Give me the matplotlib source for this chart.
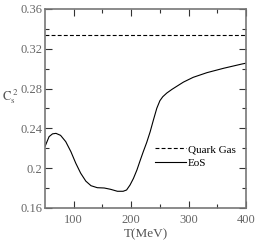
import matplotlib
matplotlib.use('Agg')
import matplotlib.pyplot as plt
import numpy as np

plt.rcParams['font.family'] = ['Liberation Serif', 'DejaVu Serif']
plt.rcParams['mathtext.fontset'] = 'stix'

# EoS speed of sound squared vs temperature
T_eos = [50, 51, 57, 63, 69, 77, 86, 95, 103.5, 112, 121, 130, 141, 153, 164, 176,
         186, 192, 198, 204, 210, 215.5, 221, 227, 233, 238.7, 244.6, 250, 255, 262,
         271, 280, 291, 308, 332, 361, 393, 400]
cs2_eos = [0.222, 0.2233, 0.2317, 0.2345, 0.235, 0.233, 0.2267, 0.2166, 0.205, 0.195,
           0.187, 0.1824, 0.1804, 0.1801, 0.1788, 0.1768, 0.1768, 0.1781, 0.1831,
           0.1898, 0.1982, 0.2075, 0.2165, 0.2258, 0.2365, 0.2484, 0.2602, 0.2678,
           0.2718, 0.2755, 0.2792, 0.2825, 0.2865, 0.2913, 0.296, 0.3004, 0.3047,
           0.3055]
quark_gas = 1.0 / 3.0

xticks = [100, 200, 300, 400]
yticks = [0.16, 0.2, 0.24, 0.28, 0.32, 0.36]
ytick_labels = ['0.16', '0.2', '0.24', '0.28', '0.32', '0.36']

fig = plt.figure(figsize=(2.56, 2.42), dpi=100)
ax = fig.add_axes([0.176, 0.1405, 0.785, 0.8225])

ax.axhline(quark_gas, color='black', linestyle='--', linewidth=0.8,
           dashes=(3.5, 2), label='Quark Gas')
ax.plot(T_eos, cs2_eos, color='black', linewidth=0.8, label='EoS')

ax.set_xlim(50, 400)
ax.set_ylim(0.16, 0.36)
ax.set_xticks(xticks)
ax.set_xticks([150, 250, 350], minor=True)
ax.set_yticks(yticks)
ax.set_yticklabels(ytick_labels)
ax.set_yticks([0.18, 0.22, 0.26, 0.30, 0.34], minor=True)

grey = '#777777'
for s in ax.spines.values():
    s.set_color(grey)
    s.set_linewidth(1.2)
ax.tick_params(which='both', direction='in', top=True, right=True,
               colors='#333333', labelcolor='#666666', labelsize=9)
ax.tick_params(axis='x', pad=4)
ax.tick_params(axis='y', pad=2)
ax.tick_params(which='major', length=5, width=0.8)
ax.tick_params(which='minor', length=3, width=0.8)

ax.set_xlabel('T(MeV)', fontsize=9.5, color='#555555', labelpad=2)
fig.text(0.008, 0.6, r'$\mathrm{C_s^{\ 2}}$', fontsize=9, color='#555555',
         ha='left', va='center')

ax.legend(loc='center left', bbox_to_anchor=(0.545, 0.26), frameon=False,
          fontsize=8, handlelength=2.8, handletextpad=0.2, labelspacing=0.35,
          borderaxespad=0, borderpad=0)

fig.savefig('out.png', dpi=100)
